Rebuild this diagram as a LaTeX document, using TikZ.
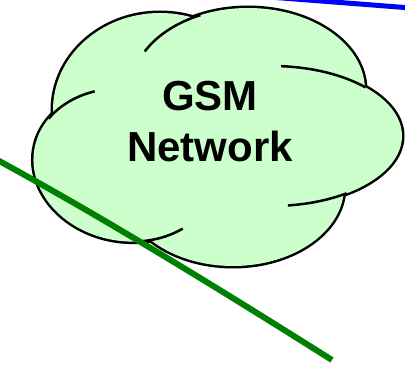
\documentclass[tikz,border=0pt]{standalone}
\usepackage{fontspec}
\setmainfont{Liberation Sans}
\usepackage{tikz}
\usetikzlibrary{calc}

\definecolor{cloudgreen}{RGB}{204,255,204}
\definecolor{linkgreen}{RGB}{0,128,0}

\begin{document}
\begin{tikzpicture}[x=1pt,y=-1pt,lobe/.style={fill=cloudgreen}, rim/.style={draw=black,line width=5pt}, seam/.style={draw=black,line width=2.5pt},cloudtext/.style={font=\bfseries\fontsize{42}{51}\selectfont,align=center,inner sep=0pt}, blueline/.style={draw=blue,line width=5pt},greenline/.style={draw=linkgreen,line width=6pt}]
\useasboundingbox (0,0) rectangle (405,366);
\clip (0,0) rectangle (405,366);

\coordinate (tl) at (160,110);
\coordinate (tp) at (248,90);
\coordinate (rt) at (272,136);
\coordinate (bt) at (233,187);
\coordinate (lf) at (126,165);

\foreach \c/\rx/\ry/\ang in {tl/107/97/0, tp/117/82/0, rt/130/70/0, bt/111/79/0, lf/93/76/-10}
  \draw[rim,rotate around={\ang:(\c)}] (\c) ellipse[x radius=\rx,y radius=\ry];
\foreach \c/\rx/\ry/\ang in {tl/107/97/0, tp/117/82/0, rt/130/70/0, bt/111/79/0, lf/93/76/-10}
  \fill[lobe,rotate around={\ang:(\c)}] (\c) ellipse[x radius=\rx,y radius=\ry];

\draw[seam] (tp) ++(208:117 and 82) arc[start angle=208,end angle=246,x radius=117,y radius=82];
\draw[seam] (rt) ++(274:130 and 70) arc[start angle=274,end angle=316,x radius=130,y radius=70];
\draw[seam] (rt) ++(55:130 and 70) arc[start angle=55,end angle=83,x radius=130,y radius=70];
\draw[seam,rotate around={-10:(lf)}] (lf) ++(205:93 and 76) arc[start angle=205,end angle=242,x radius=93,y radius=76];
\draw[seam,rotate around={-10:(lf)}] (lf) ++(44:93 and 76) arc[start angle=44,end angle=75,x radius=93,y radius=76];

\node[cloudtext] (gsm) at (210,122) {GSM\\Network};

\coordinate (bluewest) at (250,-4.5);
\coordinate (blueeast) at (420,8.7);
\draw[blueline] (bluewest) -- (blueeast);

\coordinate (greenwest) at (-10,156);
\coordinate (greeneast) at (332,360);
\draw[greenline] (greenwest) .. controls (100,215.5) and (220,289.4) .. (greeneast);
\end{tikzpicture}
\end{document}
